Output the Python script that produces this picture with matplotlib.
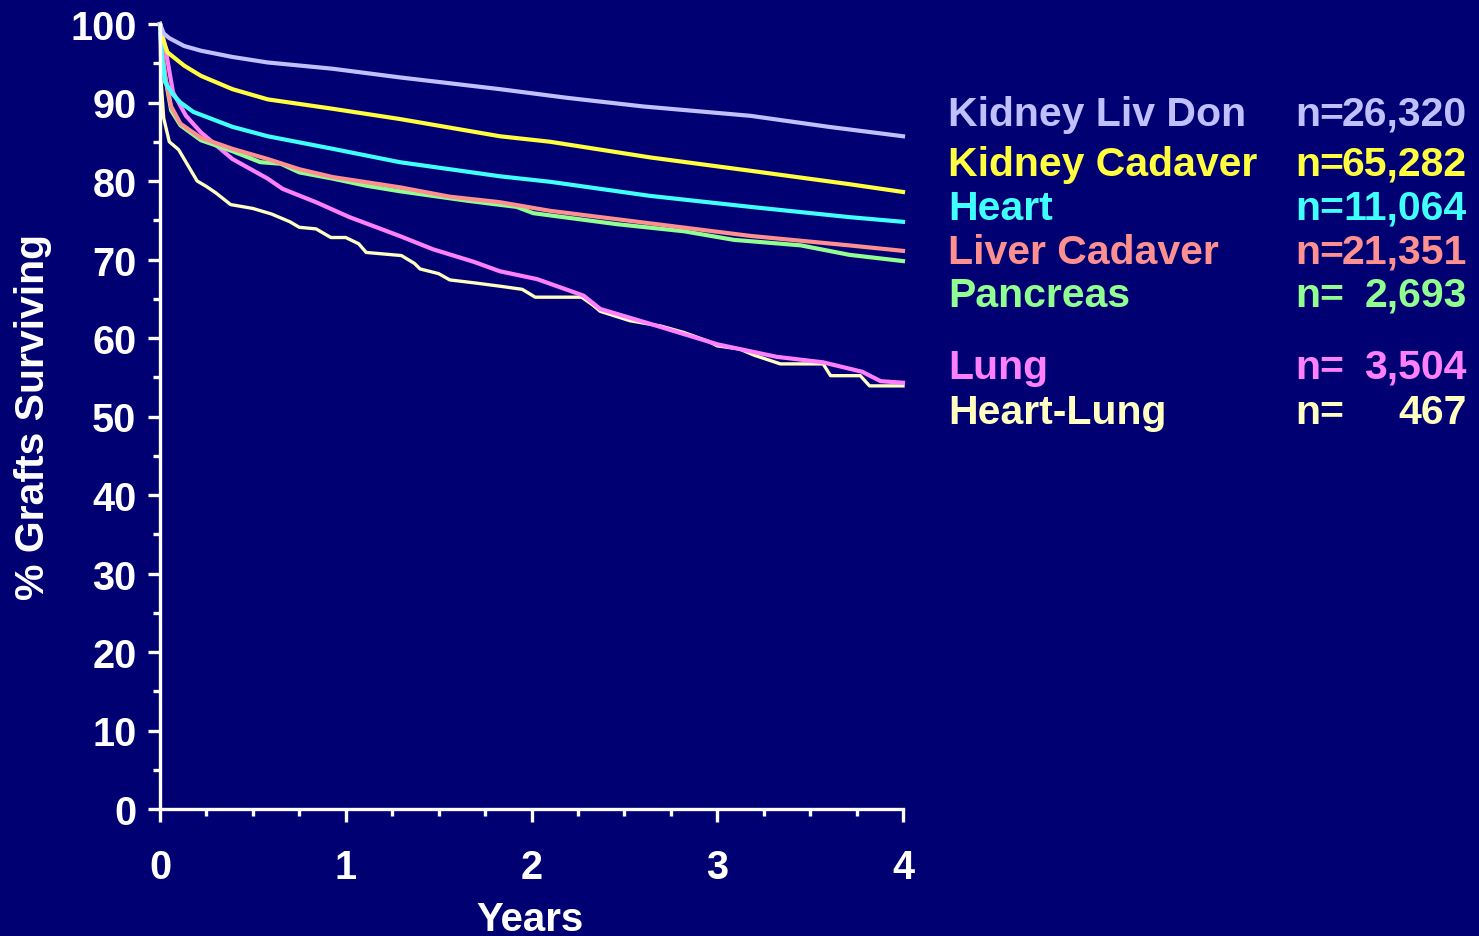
import matplotlib
matplotlib.use('Agg')
import matplotlib.pyplot as plt
from matplotlib.ticker import MultipleLocator

plt.rcParams['font.family'] = ['Liberation Sans', 'DejaVu Sans']
plt.rcParams['font.weight'] = 'bold'

bg = '#000073'

# series (years, % surviving)
kld_t = [0, 0.02, 0.05, 0.13, 0.22, 0.39, 0.58, 0.93, 1.29, 1.83, 2.19, 2.6, 3.18, 3.6, 4.0]
kld_s = [100, 98.8, 98.2, 97.2, 96.6, 95.8, 95.1, 94.3, 93.2, 91.7, 90.6, 89.5, 88.3, 86.9, 85.7]

kc_t = [0, 0.01, 0.04, 0.13, 0.22, 0.39, 0.58, 0.93, 1.29, 1.56, 1.83, 2.1, 2.64, 3.18, 3.71, 4.0]
kc_s = [100, 98.5, 96.4, 94.7, 93.4, 91.7, 90.4, 89.2, 87.9, 86.8, 85.7, 85.0, 83.0, 81.3, 79.6, 78.6]

heart_t = [0, 0.01, 0.027, 0.07, 0.11, 0.18, 0.39, 0.58, 0.93, 1.29, 1.56, 1.83, 2.1, 2.64, 3.18, 3.71, 4.0]
heart_s = [100, 96, 92.6, 91.0, 90.0, 88.8, 86.9, 85.7, 84.1, 82.4, 81.5, 80.6, 79.9, 78.1, 76.7, 75.4, 74.8]

liver_t = [0, 0.01, 0.03, 0.06, 0.11, 0.22, 0.39, 0.58, 0.75, 0.93, 1.29, 1.56, 1.83, 2.1, 2.64, 3.18, 3.71, 4.0]
liver_s = [100, 97, 93, 89.5, 87.3, 85.5, 84.1, 82.8, 81.5, 80.5, 79.2, 78.0, 77.3, 76.2, 74.6, 73.0, 71.8, 71.1]

panc_t = [0, 0.01, 0.03, 0.06, 0.11, 0.22, 0.39, 0.54, 0.65, 0.75, 0.93, 1.11, 1.29, 1.65, 1.92, 2.01,
          2.46, 2.82, 3.09, 3.45, 3.71, 4.0]
panc_s = [100, 96, 93, 89, 87.1, 85.2, 83.8, 82.4, 82.2, 81.1, 80.3, 79.4, 78.7, 77.5, 76.7, 75.9,
          74.5, 73.6, 72.5, 71.8, 70.6, 69.8]

lung_t = [0, 0.01, 0.027, 0.07, 0.14, 0.22, 0.39, 0.58, 0.66, 0.84, 1.02, 1.29, 1.47, 1.69, 1.83, 2.03,
          2.28, 2.37, 2.64, 3.0, 3.32, 3.57, 3.78, 3.88, 4.0]
lung_s = [100, 99, 97.2, 91.3, 88.3, 86.2, 82.8, 80.3, 79.0, 77.3, 75.4, 73.0, 71.3, 69.7, 68.5, 67.5,
          65.4, 63.7, 61.8, 59.2, 57.6, 56.9, 55.7, 54.5, 54.3]

hl_t = [0, 0.005, 0.02, 0.05, 0.1, 0.15, 0.2, 0.25, 0.3, 0.38, 0.5, 0.6, 0.7, 0.75, 0.84, 0.92, 1.0,
        1.07, 1.11, 1.3, 1.37, 1.4, 1.5, 1.56, 1.7, 1.83, 1.95, 2.02, 2.27, 2.33, 2.37, 2.53, 2.7, 2.82,
        2.95, 3.0, 3.12, 3.2, 3.34, 3.57, 3.61, 3.77, 3.82, 4.0]
hl_s = [100, 93, 88, 85, 84, 82, 80, 79.3, 78.5, 77, 76.5, 75.8, 74.8, 74.1, 73.9, 72.8, 72.8,
        72.0, 70.9, 70.5, 69.5, 68.8, 68.2, 67.4, 67.0, 66.6, 66.2, 65.2, 65.2, 64.2, 63.4, 62.2, 61.5, 60.7,
        59.6, 59.0, 58.6, 57.8, 56.7, 56.7, 55.2, 55.2, 53.9, 53.9]

names = ['Kidney Liv Don', 'Kidney Cadaver', 'Heart', 'Liver Cadaver', 'Pancreas', 'Lung', 'Heart-Lung']
counts = ['26,320', '65,282', '11,064', '21,351', '2,693', '3,504', '467']
colors = ['#c0c0ff', '#ffff40', '#40ffff', '#ff9090', '#90ff90', '#ff80ff', '#ffffc0']
series = [(kld_t, kld_s), (kc_t, kc_s), (heart_t, heart_s), (liver_t, liver_s),
          (panc_t, panc_s), (lung_t, lung_s), (hl_t, hl_s)]
widths = [3, 3, 3, 3, 3, 3, 2.4]

W, H = 1479, 937
fig = plt.figure(figsize=(W / 100, H / 100), dpi=100, facecolor=bg)
ax = fig.add_axes([160 / W, (H - 810) / H, (903 - 160) / W, (810 - 25) / H], facecolor=bg)

# draw from bottom to top so upper curves sit on top
for i in range(len(series) - 1, -1, -1):
    t, s = series[i]
    ax.plot(t, s, color=colors[i], lw=widths[i], clip_on=False, solid_joinstyle='round')

ax.set_xlim(0, 4)
ax.set_ylim(0, 100)
ax.xaxis.set_major_locator(MultipleLocator(1))
ax.xaxis.set_minor_locator(MultipleLocator(0.25))
ax.yaxis.set_major_locator(MultipleLocator(10))
ax.yaxis.set_minor_locator(MultipleLocator(5))

for sp in ['top', 'right']:
    ax.spines[sp].set_visible(False)
for sp in ['left', 'bottom']:
    ax.spines[sp].set_color('white')
    ax.spines[sp].set_linewidth(2.4)

ax.tick_params(which='major', color='white', width=2.4, length=9, labelcolor='white', labelsize=28.5)
ax.tick_params(which='minor', color='white', width=2.4, length=5)
ax.tick_params(axis='x', which='major', pad=19)
ax.tick_params(axis='y', which='major', pad=8)
for lab in ax.get_xticklabels() + ax.get_yticklabels():
    lab.set_fontweight('bold')

ax.set_xlabel('Years', color='white', fontsize=29, fontweight='bold')
ax.xaxis.set_label_coords(0.498, -0.116)
ax.set_ylabel('% Grafts Surviving', color='white', fontsize=29.5, fontweight='bold')
ax.yaxis.set_label_coords(-0.145, 0.5)

# legend block on the right
baselines = [126, 176, 220, 264, 307, 379, 424]
for name, n, c, yb in zip(names, counts, colors, baselines):
    fig.text(948 / W, 1 - yb / H, name, color=c, fontsize=29.5, fontweight='bold', va='baseline', ha='left')
    fig.text(1295 / W, 1 - yb / H, 'n=', color=c, fontsize=29.5, fontweight='bold', va='baseline', ha='left')
    fig.text(1467 / W, 1 - yb / H, n, color=c, fontsize=29.5, fontweight='bold', va='baseline', ha='right')

fig.savefig('out.png', dpi=100, facecolor=bg)
